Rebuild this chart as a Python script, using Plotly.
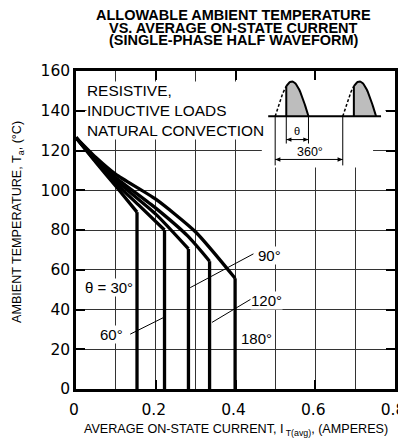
import numpy as np
import plotly.graph_objects as go

# ---- data ----
angle_labels = ["30°", "60°", "90°", "120°", "180°"]

x_30 = [0, 0.05, 0.1, 0.153, 0.153]
y_30 = [126.5, 114, 102, 89, 0]

x_60 = [0, 0.05, 0.1, 0.16, 0.222, 0.222]
y_60 = [126.5, 114.5, 103.5, 92, 80, 0]

x_90 = [0, 0.05, 0.1, 0.2, 0.282, 0.282]
y_90 = [126.5, 115, 105, 88, 70.5, 0]

x_120 = [0, 0.05, 0.1, 0.2, 0.28, 0.335, 0.335]
y_120 = [126.5, 115.5, 106.3, 91, 77, 64.3, 0]

x_180 = [0, 0.05, 0.1, 0.2, 0.3, 0.399, 0.399]
y_180 = [126.5, 116.5, 108, 95.5, 79, 55.7, 0]

x_ticks = [0, 0.2, 0.4, 0.6, 0.8]
x_tick_text = ["0", "0.2", "0.4", "0.6", "0.8"]
y_ticks = [0, 20, 40, 60, 80, 100, 120, 140, 160]

FONT = "Arial, Liberation Sans, Helvetica, sans-serif"
WIDE = "DejaVu Sans, Verdana, sans-serif"

fig = go.Figure()

for xs, ys, name in zip([x_30, x_60, x_90, x_120, x_180],
                        [y_30, y_60, y_90, y_120, y_180], angle_labels):
    fig.add_trace(go.Scatter(x=xs[:-1], y=ys[:-1], mode="lines", name=name,
                             line=dict(color="black", width=3.3, shape="spline", smoothing=0.6),
                             showlegend=False, hoverinfo="skip"))
    fig.add_trace(go.Scatter(x=xs[-2:], y=ys[-2:], mode="lines", name=name,
                             line=dict(color="black", width=3.3),
                             showlegend=False, hoverinfo="skip"))

# ---- inset waveform illustration (decorative) ----
base_y = 137.2
amp = 17.5
half = 0.0835
starts = [0.4995, 0.669]
fire_frac = 1.0 / 3.0  # conduction begins 60 deg into each half cycle

shapes = []
shapes.append(dict(type="rect", xref="x", yref="y", x0=0.466, x1=0.776, y0=137, y1=160,
                   fillcolor="white", line=dict(width=0), layer="between"))
shapes.append(dict(type="rect", xref="x", yref="y", x0=0.466, x1=0.745, y0=111.5, y1=137,
                   fillcolor="white", line=dict(width=0), layer="between"))

for s in starts:
    t_dash = np.linspace(0, fire_frac, 12)
    t_solid = np.linspace(fire_frac, 1, 30)
    xd = s + t_dash * half
    yd = base_y + amp * np.sin(np.pi * t_dash)
    xs_ = s + t_solid * half
    ys_ = base_y + amp * np.sin(np.pi * t_solid)
    fig.add_trace(go.Scatter(x=np.concatenate([[xs_[0]], xs_, [xs_[-1]]]),
                             y=np.concatenate([[base_y], ys_, [base_y]]),
                             mode="lines", fill="toself", fillcolor="#bdbdbd",
                             line=dict(width=0), showlegend=False, hoverinfo="skip"))
    fig.add_trace(go.Scatter(x=xd, y=yd, mode="lines",
                             line=dict(color="black", width=1.5, dash="3px,2px"),
                             showlegend=False, hoverinfo="skip"))
    fig.add_trace(go.Scatter(x=xs_, y=ys_, mode="lines",
                             line=dict(color="black", width=2),
                             showlegend=False, hoverinfo="skip"))
    fig.add_trace(go.Scatter(x=[xs_[0], xs_[0]], y=[base_y, ys_[0]], mode="lines",
                             line=dict(color="black", width=2),
                             showlegend=False, hoverinfo="skip"))

fig.add_trace(go.Scatter(x=[0.482, 0.765], y=[base_y, base_y], mode="lines",
                         line=dict(color="black", width=2),
                         showlegend=False, hoverinfo="skip"))

x_fire = starts[0] + fire_frac * half
x_end = starts[0] + half
dim_lines = [
    (x_fire, x_fire, base_y, 123.5),
    (x_end, x_end, base_y, 123.5),
    (starts[0], starts[0], base_y, 112.5),
    (starts[1], starts[1], base_y, 112.5),
]
for x0, x1, y0, y1 in dim_lines:
    shapes.append(dict(type="line", xref="x", yref="y", x0=x0, x1=x1, y0=y0, y1=y1,
                       line=dict(color="black", width=1)))


def arrow_dim(a0, a1, yy):
    out = [dict(type="line", xref="x", yref="y", x0=a0, x1=a1, y0=yy, y1=yy,
                line=dict(color="black", width=1))]
    dx, dy = 0.013, 1.1
    out.append(dict(type="path", xref="x", yref="y",
                    path=f"M {a1},{yy} L {a1 - dx},{yy + dy} L {a1 - dx},{yy - dy} Z",
                    fillcolor="black", line=dict(width=0)))
    out.append(dict(type="path", xref="x", yref="y",
                    path=f"M {a0},{yy} L {a0 + dx},{yy + dy} L {a0 + dx},{yy - dy} Z",
                    fillcolor="black", line=dict(width=0)))
    return out


shapes += arrow_dim(x_fire, x_end, 125.5)
shapes += arrow_dim(starts[0], starts[1], 115.5)

annotations = []
annotations.append(dict(x=(x_fire + x_end) / 2, y=130, xref="x", yref="y", text="θ",
                        showarrow=False, font=dict(family=FONT, size=11, color="black")))
annotations.append(dict(x=(starts[0] + starts[1]) / 2 + 0.002, y=119, xref="x", yref="y",
                        text="360°", showarrow=False,
                        font=dict(family=FONT, size=12.5, color="black")))

annotations.append(dict(x=0.026, y=140, xref="x", yref="y", xanchor="left", yanchor="middle",
                        align="left", showarrow=False, bgcolor="white", borderpad=0,
                        text="RESISTIVE,<br>INDUCTIVE LOADS<br>NATURAL CONVECTION",
                        font=dict(family=FONT, size=15.4, color="black")))

lab = [
    ("θ = 30°", 0.083, 51),
    ("60°", 0.09, 27.6),
    ("90°", 0.484, 67.2),
    ("120°", 0.477, 44.7),
    ("180°", 0.452, 25.4),
]
for t, xx, yy in lab:
    annotations.append(dict(x=xx, y=yy, xref="x", yref="y", text=t, showarrow=False,
                            xanchor="center", yanchor="middle",
                            bgcolor="white", borderpad=0,
                            font=dict(family=FONT, size=15, color="black")))

leaders = [
    (0.136, 27.6, 0.220, 36),
    (0.445, 68, 0.2865, 51),
    (0.4386, 45.2, 0.341, 33.5),
]
for x0, y0, x1, y1 in leaders:
    shapes.append(dict(type="line", xref="x", yref="y", x0=x0, y0=y0, x1=x1, y1=y1,
                       line=dict(color="black", width=1)))

title_lines = ["ALLOWABLE AMBIENT TEMPERATURE",
               "VS. AVERAGE ON-STATE CURRENT",
               "(SINGLE-PHASE HALF WAVEFORM)"]
title_y = [1.176, 1.136, 1.096]
for tl, ty in zip(title_lines, title_y):
    annotations.append(dict(x=0.495, y=ty, xref="paper", yref="paper",
                            xanchor="center", yanchor="middle",
                            text="<b>" + tl + "</b>", showarrow=False,
                            font=dict(family=FONT, size=14.5, color="black")))

annotations.append(dict(x=0.5, y=-0.129, xref="paper", yref="paper",
                        xanchor="center", yanchor="middle",
                        text="AVERAGE ON-STATE CURRENT, I<sub> T(avg)</sub>, (AMPERES)",
                        showarrow=False, font=dict(family=FONT, size=12.6, color="black")))
annotations.append(dict(x=-0.182, y=0.525, xref="paper", yref="paper", textangle=-90,
                        xanchor="center", yanchor="middle",
                        text="AMBIENT TEMPERATURE, T<sub>a</sub>, (°C)",
                        showarrow=False, font=dict(family=FONT, size=12.6, color="black")))

axis_common = dict(showline=True, linecolor="black", linewidth=2.5, mirror="allticks",
                   ticks="inside", ticklen=9, tickwidth=2, tickcolor="black",
                   showgrid=True, gridcolor="#333333", gridwidth=1, zeroline=False,
                   automargin=False, ticklabeloverflow="allow",
                   tickfont=dict(family=WIDE, size=15.5, color="black"))

# page body has an 8px default margin, so the figure is sized to fit the window
fig.update_layout(
    width=398, height=438,
    margin=dict(l=68, r=11, t=63, b=57),
    paper_bgcolor="white", plot_bgcolor="white",
    shapes=shapes, annotations=annotations,
    xaxis=dict(range=[0, 0.8], tickvals=x_ticks, ticktext=x_tick_text,
               ticklabelstandoff=5, ticklabelshift=-2,
               minor=dict(dtick=0.1, tick0=0, showgrid=True, gridcolor="#333333", gridwidth=1),
               **axis_common),
    yaxis=dict(range=[0, 160], tickvals=y_ticks, **axis_common),
)

fig.write_html("out.html")
